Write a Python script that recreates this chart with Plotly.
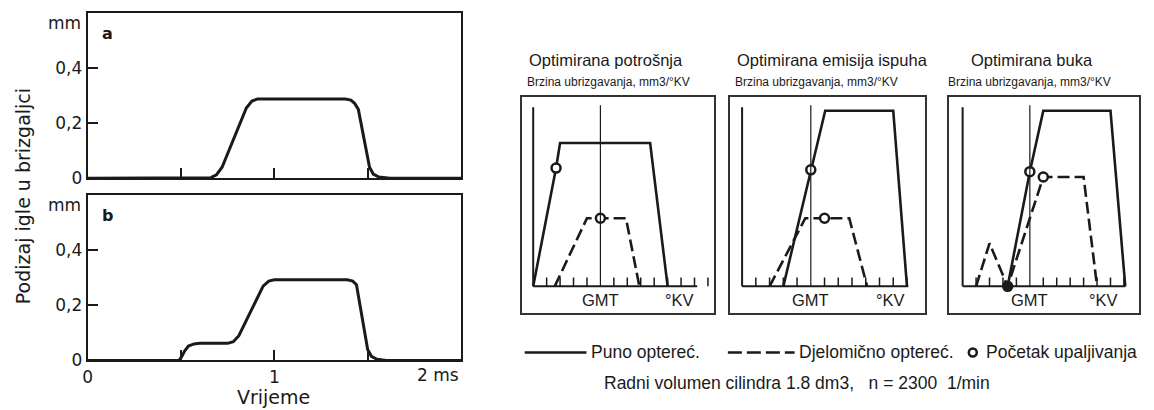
import plotly.graph_objects as go

W, H = 1154, 420

# ---------------- data: needle lift (left) ----------------
time_a = [0, 0.60, 0.66, 0.69, 0.72, 0.85, 0.88, 0.91, 1.38, 1.41, 1.43, 1.45, 1.51, 1.53, 1.56, 1.62, 2.0]
lift_a = [0, 0, 0.002, 0.012, 0.04, 0.255, 0.28, 0.288, 0.288, 0.284, 0.272, 0.25, 0.04, 0.015, 0.004, 0, 0]
time_b = [0, 0.49, 0.505, 0.52, 0.54, 0.57, 0.60, 0.75, 0.78, 0.81, 0.94, 0.97, 1.0, 1.39, 1.42, 1.44, 1.50, 1.52, 1.55, 1.60, 2.0]
lift_b = [0, 0, 0.015, 0.035, 0.052, 0.060, 0.062, 0.062, 0.068, 0.09, 0.27, 0.288, 0.293, 0.293, 0.288, 0.275, 0.04, 0.015, 0.004, 0, 0]
lift_ticks = [0, 0.2, 0.4]
lift_tick_labels = ["0", "0,2", "0,4"]
time_ticks = [0, 0.5, 1, 1.5]
time_tick_labels = ["0", "", "1", ""]
panel_letters = ["a", "b"]

# ---------------- data: injection rate (right) ----------------
panel_titles = ["Optimirana potrošnja", "Optimirana emisija ispuha", "Optimirana buka"]
rate_subtitle = "Brzina ubrizgavanja, mm3/°KV"
full_x = [[-5, -3.3, -3, 3.7, 5], [-2, 0, 1.05, 6, 7], [-1.65, 0, 1.0, 6, 7.1]]
full_y = [[0, 6.6, 8, 8, 0], [0, 6.5, 9.8, 9.8, 0], [0, 6.4, 9.8, 9.8, 0]]
part_x = [[-3.4, -1, 1.9, 2.9], [-3, -0.4, 2.8, 4.1], [-4, -3, -1.65, 1.0, 4.0, 5.0]]
part_y = [[0, 3.8, 3.8, 0], [0, 3.8, 3.8, 0], [0, 2.4, 0, 6.1, 6.1, 0]]
ign_x = [[-3.3, 0], [0, 1], [0, 1, -1.65]]
ign_y = [[6.6, 3.8], [6.5, 3.8], [6.4, 6.1, 0]]
crank_ticks = [[-4, -3, -2, -1, 1, 2, 3, 4, 5, 6, 7, 8],
               [-4, -3, -2, -1, 1, 2, 3, 4, 5, 6, 7],
               [-4, -3, -2, -1, 1, 2, 3, 4, 5, 6, 7]]
baseline_end = [7.2, 7.1, 7.1]
legend_labels = ["Puno optereć.", "Djelomično optereć.", "Početak upaljivanja"]
footnote = "Radni volumen cilindra 1.8 dm3,\u00a0\u00a0\u00a0n = 2300\u00a0\u00a01/min"

# ---------------- layout geometry (pixels of the photographed picture) ----------------
SY = 0.975  # vertical scale observed between page pixels and the photograph


def px(x):
    return x / W


def py(y):
    return max(0.0, 1 - (y / SY) / H)


LEFT_X = (83, 458)
LEFT_Y = [(13, 178), (195, 360)]
RIGHT_X = [(519, 712), (728, 924), (948, 1139)]
RIGHT_GMT = [598, 809.3, 1029.3]
RIGHT_PPU = [13.5, 13.8, 13.5]
RIGHT_Y = (97, 313)
BASE_Y = 286
Y_PPU = 17.9

LEFT_FONT = "DejaVu Sans"
RIGHT_FONT = "Liberation Sans, Arial"
INK = "#1a1a1a"

fig = go.Figure()
layout = dict(
    width=W, height=H, margin=dict(l=0, r=0, t=0, b=0),
    paper_bgcolor="white", plot_bgcolor="white", showlegend=False,
    font=dict(family=RIGHT_FONT, color=INK, size=14),
)

annotations = []
shapes = []

# ---- left panels ----
for i, (tx, ly) in enumerate([(time_a, lift_a), (time_b, lift_b)]):
    n = "" if i == 0 else str(i + 1)
    fig.add_trace(go.Scatter(x=tx, y=ly, mode="lines", line=dict(color=INK, width=3),
                             xaxis="x" + n, yaxis="y" + n, hoverinfo="skip"))
    y0, y1 = LEFT_Y[i]
    layout["xaxis" + n] = dict(
        domain=[px(LEFT_X[0]), px(LEFT_X[1])], range=[0, 2], anchor="y" + n,
        showline=True, mirror=True, linecolor=INK, linewidth=2,
        showgrid=False, zeroline=False, ticks="inside", ticklen=10, tickwidth=2, tickcolor=INK,
        tickvals=time_ticks, ticktext=time_tick_labels, showticklabels=(i == 1),
        tickfont=dict(family=LEFT_FONT, size=17, color=INK),
    )
    layout["yaxis" + n] = dict(
        domain=[py(y1), py(y0)], range=[0, 0.6], anchor="x" + n,
        showline=True, mirror=True, linecolor=INK, linewidth=2,
        showgrid=False, zeroline=False, ticks="inside", ticklen=10, tickwidth=2, tickcolor=INK,
        tickvals=lift_ticks, ticktext=lift_tick_labels,
        tickfont=dict(family=LEFT_FONT, size=17, color=INK),
    )
    annotations.append(dict(x=px(78), y=py(y0 - 2), xref="paper", yref="paper", text="mm",
                            showarrow=False, xanchor="right", yanchor="top",
                            font=dict(family=LEFT_FONT, size=17, color=INK)))
    annotations.append(dict(x=px(95), y=py(y0 + 20), xref="paper", yref="paper",
                            text="<b>%s</b>" % panel_letters[i], showarrow=False,
                            xanchor="left", yanchor="middle",
                            font=dict(family=LEFT_FONT, size=16, color=INK)))

annotations.append(dict(x=px(LEFT_X[1]), y=py(375), xref="paper", yref="paper", text="2 ms",
                        showarrow=False, xanchor="right", yanchor="middle",
                        font=dict(family=LEFT_FONT, size=17, color=INK)))
annotations.append(dict(x=px(270), y=py(397), xref="paper", yref="paper", text="Vrijeme",
                        showarrow=False, xanchor="center", yanchor="middle",
                        font=dict(family=LEFT_FONT, size=19, color=INK)))
annotations.append(dict(x=px(18), y=py(196), xref="paper", yref="paper",
                        text="Podizaj igle u brizgaljci", textangle=-90,
                        showarrow=False, xanchor="center", yanchor="middle",
                        font=dict(family=LEFT_FONT, size=19, color=INK)))

# ---- right panels ----
for i in range(3):
    k = i + 3
    xa, ya = "x%d" % k, "y%d" % k
    gmt, ppu = RIGHT_GMT[i], RIGHT_PPU[i]
    xr = [(RIGHT_X[i][0] - gmt) / ppu, (RIGHT_X[i][1] - gmt) / ppu]
    yr = [-(RIGHT_Y[1] - BASE_Y) / Y_PPU, (BASE_Y - RIGHT_Y[0]) / Y_PPU]
    frame = dict(showline=True, mirror=True, linecolor="#333", linewidth=1.5,
                 showgrid=False, zeroline=False, showticklabels=False, ticks="")
    layout["xaxis%d" % k] = dict(domain=[px(RIGHT_X[i][0]), px(RIGHT_X[i][1])], range=xr,
                                 anchor=ya, **frame)
    layout["yaxis%d" % k] = dict(domain=[py(RIGHT_Y[1]), py(RIGHT_Y[0])], range=yr,
                                 anchor=xa, **frame)

    # axis decorations
    shapes.append(dict(type="line", xref=xa, yref=ya, x0=-5, x1=baseline_end[i], y0=0, y1=0,
                       line=dict(color=INK, width=2)))
    shapes.append(dict(type="line", xref=xa, yref=ya, x0=-5, x1=-5, y0=0, y1=10,
                       line=dict(color=INK, width=2)))
    shapes.append(dict(type="line", xref=xa, yref=ya, x0=0, x1=0, y0=0, y1=10.1,
                       line=dict(color=INK, width=1.2), layer="above"))

    tx, ty = [], []
    for t in crank_ticks[i]:
        tx += [t, t, None]
        ty += [0, 0.5, None]
    fig.add_trace(go.Scatter(x=tx, y=ty, mode="lines", line=dict(color=INK, width=1.5),
                             xaxis=xa, yaxis=ya, hoverinfo="skip"))

    fig.add_trace(go.Scatter(x=full_x[i], y=full_y[i], mode="lines",
                             line=dict(color=INK, width=2.6), xaxis=xa, yaxis=ya,
                             name=legend_labels[0]))
    fig.add_trace(go.Scatter(x=part_x[i], y=part_y[i], mode="lines",
                             line=dict(color=INK, width=2.6, dash="12px,5px"), xaxis=xa, yaxis=ya,
                             name=legend_labels[1]))
    fills = ["white" if yv > 0 else INK for yv in ign_y[i]]
    fig.add_trace(go.Scatter(x=ign_x[i], y=ign_y[i], mode="markers",
                             marker=dict(symbol="circle", size=9, color=fills,
                                         line=dict(color=INK, width=2.5)),
                             xaxis=xa, yaxis=ya, name=legend_labels[2]))

    # titles
    if i < 2:
        tx0, anchor = RIGHT_X[i][0] + 5, "left"
        sx0 = RIGHT_X[i][0] + 3
    else:
        tx0, anchor = 1031, "center"
        sx0 = 1029
    annotations.append(dict(x=px(tx0), y=py(60), xref="paper", yref="paper", text=panel_titles[i],
                            showarrow=False, xanchor=anchor, yanchor="middle",
                            font=dict(size=16.5, color=INK)))
    annotations.append(dict(x=px(sx0), y=py(82), xref="paper", yref="paper", text=rate_subtitle,
                            showarrow=False, xanchor=anchor, yanchor="middle",
                            font=dict(size=12, color=INK)))
    annotations.append(dict(x=0, y=py(300), xref=xa, yref="paper", text="GMT",
                            showarrow=False, xanchor="center", yanchor="middle",
                            font=dict(size=16.5, color=INK)))
    kv_x = [5.85, 5.8, 5.5][i]
    annotations.append(dict(x=kv_x, y=py(300), xref=xa, yref="paper", text="°KV",
                            showarrow=False, xanchor="center", yanchor="middle",
                            font=dict(size=16.5, color=INK)))

# ---- manual legend ----
LEG_Y = 352
shapes.append(dict(type="line", xref="paper", yref="paper", x0=px(522), x1=px(584),
                   y0=py(LEG_Y), y1=py(LEG_Y), line=dict(color=INK, width=2.5)))
shapes.append(dict(type="line", xref="paper", yref="paper", x0=px(726), x1=px(793),
                   y0=py(LEG_Y), y1=py(LEG_Y), line=dict(color=INK, width=2.5, dash="14px,5px")))
shapes.append(dict(type="circle", xref="paper", yref="paper", x0=px(968), x1=px(976),
                   y0=py(LEG_Y + 4), y1=py(LEG_Y - 4), line=dict(color=INK, width=2.5),
                   fillcolor="white"))
for xpos, lab in zip([587, 795, 983], legend_labels):
    annotations.append(dict(x=px(xpos), y=py(LEG_Y), xref="paper", yref="paper", text=lab,
                            showarrow=False, xanchor="left", yanchor="middle",
                            font=dict(size=17.5, color=INK)))
annotations.append(dict(x=px(795), y=py(383), xref="paper", yref="paper", text=footnote,
                        showarrow=False, xanchor="center", yanchor="middle",
                        font=dict(size=17.5, color=INK)))

layout["annotations"] = annotations
layout["shapes"] = shapes
fig.update_layout(**layout)
fig.write_html(
    "out.html",
    config={"displayModeBar": False},
    post_script=(
        "document.documentElement.style.margin='0';"
        "document.documentElement.style.overflow='hidden';"
        "document.body.style.margin='0';"
        "document.body.style.overflow='hidden';"
    ),
)
